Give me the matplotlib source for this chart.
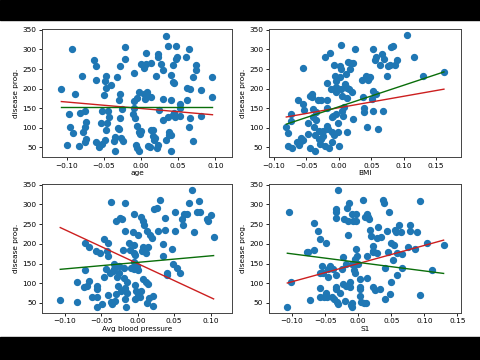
import numpy as np
import matplotlib
matplotlib.use("Agg")
import matplotlib.pyplot as plt
from matplotlib.patches import Rectangle
from matplotlib.ticker import MultipleLocator

# ---- data ----
age_x = [-0.107, -0.100, -0.097, -0.096, -0.093, -0.092, -0.089, -0.082, -0.083, -0.079,
         -0.078, -0.075, -0.074, -0.075, -0.074, -0.075, -0.063, -0.061, -0.060, -0.061,
         -0.057, -0.053, -0.054, -0.052, -0.050, -0.047, -0.048, -0.047, -0.046, -0.047,
         -0.048, -0.044, -0.043, -0.040, -0.035, -0.036, -0.035, -0.032, -0.031, -0.028,
         -0.028, -0.029, -0.028, -0.030, -0.027, -0.025, -0.024, -0.022, -0.022, -0.010,
         -0.010, -0.009, -0.011, -0.008, -0.006, -0.006, -0.007, -0.005, -0.003, -0.003,
         -0.002, -0.003, 0.000, 0.000, 0.004, 0.004, 0.007, 0.007, 0.008, 0.006,
         0.010, 0.010, 0.013, 0.014, 0.013, 0.012, 0.016, 0.017, 0.016, 0.020,
         0.019, 0.023, 0.023, 0.024, 0.023, 0.022, 0.027, 0.030, 0.030, 0.030,
         0.033, 0.033, 0.036, 0.036, 0.037, 0.038, 0.040, 0.040, 0.040, 0.040,
         0.043, 0.043, 0.044, 0.043, 0.044, 0.047, 0.048, 0.047, 0.046, 0.053,
         0.053, 0.052, 0.060, 0.062, 0.062, 0.065, 0.066, 0.066, 0.065, 0.070,
         0.070, 0.074, 0.074, 0.081, 0.081, 0.096, 0.096]
age_y = [200, 55, 135, 101, 302, 86, 185, 137, 52, 233,
         90, 143, 115, 101, 70, 62, 273, 258, 221, 62,
         50, 142, 113, 57, 183, 233, 220, 202, 113, 94,
         68, 143, 128, 210, 75, 65, 40, 229, 100, 257,
         186, 170, 125, 97, 73, 147, 65, 307, 275, 241,
         167, 150, 136, 124, 175, 105, 55, 48, 192, 89,
         83, 40, 262, 92, 253, 185, 291, 263, 190, 173,
         182, 52, 178, 265, 95, 50, 78, 68, 93, 233,
         73, 289, 280, 146, 55, 48, 262, 248, 174, 120,
         335, 68, 310, 126, 88, 82, 235, 170, 82, 40,
         260, 217, 213, 132, 138, 310, 280, 275, 128, 160,
         150, 130, 280, 202, 170, 302, 198, 124, 102, 230,
         66, 260, 248, 197, 131, 230, 179]

bmi_x = [-0.081, -0.078, -0.078, -0.074, -0.074, -0.072, -0.065, -0.063, -0.062, -0.059,
         -0.058, -0.056, -0.055, -0.055, -0.054, -0.047, -0.047, -0.045, -0.044, -0.042,
         -0.041, -0.040, -0.040, -0.038, -0.037, -0.037, -0.036, -0.035, -0.032, -0.030,
         -0.030, -0.029, -0.027, -0.027, -0.025, -0.024, -0.022, -0.022, -0.019, -0.019,
         -0.018, -0.018, -0.016, -0.015, -0.014, -0.012, -0.011, -0.010, -0.010, -0.009,
         -0.008, -0.007, -0.006, -0.005, -0.005, -0.004, -0.004, -0.002, -0.001, 0.000,
         0.001, 0.002, 0.003, 0.004, 0.004, 0.005, 0.005, 0.006, 0.008, 0.009,
         0.011, 0.012, 0.013, 0.013, 0.014, 0.016, 0.017, 0.019, 0.021, 0.022,
         0.022, 0.025, 0.035, 0.037, 0.038, 0.039, 0.042, 0.043, 0.045, 0.046,
         0.048, 0.051, 0.052, 0.052, 0.053, 0.055, 0.057, 0.058, 0.061, 0.063,
         0.066, 0.068, 0.070, 0.074, 0.075, 0.079, 0.080, 0.083, 0.087, 0.089,
         0.105, 0.116, 0.129, 0.162]
bmi_y = [102, 86, 52, 135, 116, 49, 64, 171, 56, 73,
         67, 253, 160, 68, 146, 84, 113, 181, 48, 185,
         179, 147, 126, 101, 80, 41, 120, 139, 172, 92,
         71, 57, 71, 172, 78, 92, 281, 52, 215, 172,
         151, 105, 96, 47, 291, 200, 126, 88, 63, 129,
         80, 261, 232, 203, 219, 190, 135, 113, 90, 54,
         257, 230, 198, 312, 249, 181, 143, 130, 153, 211,
         236, 177, 202, 90, 268, 198, 249, 265, 191, 265,
         123, 302, 221, 179, 151, 140, 232, 101, 223, 230,
         230, 174, 194, 143, 302, 274, 185, 281, 96, 260,
         288, 143, 276, 233, 257, 260, 306, 309, 261, 274,
         336, 280, 233, 242]

bp_x = [-0.106, -0.083, -0.083, -0.073, -0.072, -0.072, -0.070, -0.067, -0.066, -0.063,
        -0.057, -0.056, -0.055, -0.056, -0.056, -0.051, -0.049, -0.046, -0.046, -0.043,
        -0.042, -0.041, -0.040, -0.040, -0.038, -0.037, -0.036, -0.035, -0.033, -0.034,
        -0.032, -0.031, -0.029, -0.029, -0.028, -0.027, -0.026, -0.025, -0.024, -0.023,
        -0.021, -0.020, -0.019, -0.019, -0.018, -0.017, -0.017, -0.017, -0.017, -0.016,
        -0.015, -0.014, -0.012, -0.011, -0.009, -0.006, -0.005, -0.005, -0.005, -0.004,
        -0.005, -0.005, -0.004, -0.003, -0.002, -0.001, 0.000, 0.000, 0.001, 0.003,
        0.004, 0.005, 0.006, 0.007, 0.008, 0.008, 0.009, 0.011, 0.011, 0.013,
        0.013, 0.014, 0.014, 0.015, 0.017, 0.020, 0.021, 0.021, 0.023, 0.026,
        0.028, 0.031, 0.035, 0.035, 0.037, 0.038, 0.040, 0.040, 0.047, 0.048,
        0.051, 0.051, 0.054, 0.058, 0.061, 0.062, 0.063, 0.067, 0.071, 0.074,
        0.077, 0.084, 0.081, 0.086, 0.095, 0.096, 0.101, 0.104]
bp_y = [57, 53, 104, 91, 134, 201, 93, 106, 193, 64,
        181, 93, 65, 85, 40, 176, 48, 212, 116, 136,
        181, 70, 170, 201, 127, 53, 305, 48, 150, 131,
        136, 55, 259, 74, 116, 93, 145, 127, 265, 81,
        263, 184, 140, 113, 89, 303, 233, 82, 60, 40,
        76, 102, 203, 185, 140, 229, 275, 198, 178, 172,
        155, 136, 60, 95, 81, 144, 223, 133, 68, 64,
        81, 269, 182, 257, 192, 110, 247, 176, 102, 233,
        51, 192, 99, 62, 223, 216, 68, 43, 288, 291,
        233, 311, 199, 170, 234, 265, 127, 121, 186, 150,
        280, 233, 138, 125, 263, 248, 275, 275, 303, 336,
        229, 309, 281, 281, 263, 259, 274, 218]

s1_x = [-0.107, -0.104, -0.102, -0.078, -0.076, -0.073, -0.066, -0.066, -0.061, -0.058,
        -0.058, -0.058, -0.057, -0.054, -0.053, -0.051, -0.049, -0.048, -0.047, -0.045,
        -0.045, -0.043, -0.043, -0.040, -0.038, -0.036, -0.034, -0.034, -0.033, -0.033,
        -0.033, -0.033, -0.032, -0.030, -0.030, -0.028, -0.025, -0.023, -0.022, -0.023,
        -0.020, -0.019, -0.018, -0.017, -0.015, -0.015, -0.014, -0.013, -0.013, -0.011,
        -0.010, -0.009, -0.009, -0.009, -0.008, -0.007, -0.005, -0.005, -0.005, -0.004,
        -0.003, -0.003, -0.002, 0.000, 0.002, 0.002, 0.003, 0.003, 0.004, 0.008,
        0.009, 0.010, 0.012, 0.013, 0.014, 0.014, 0.015, 0.017, 0.018, 0.019,
        0.022, 0.022, 0.023, 0.023, 0.025, 0.028, 0.028, 0.030, 0.033, 0.035,
        0.037, 0.039, 0.040, 0.040, 0.043, 0.045, 0.047, 0.048, 0.050, 0.050,
        0.053, 0.054, 0.056, 0.057, 0.058, 0.059, 0.062, 0.064, 0.066, 0.066,
        0.076, 0.079, 0.079, 0.086, 0.089, 0.093, 0.094, 0.104, 0.111, 0.129]
s1_y = [41, 281, 102, 180, 180, 57, 252, 185, 233, 212,
        87, 125, 65, 143, 125, 65, 203, 76, 64, 135,
        116, 145, 138, 64, 135, 60, 91, 85, 288, 282,
        265, 121, 53, 336, 48, 76, 136, 167, 263, 98,
        54, 148, 93, 292, 259, 223, 303, 102, 91, 44,
        148, 51, 275, 40, 258, 133, 125, 148, 161, 275,
        259, 187, 170, 148, 68, 85, 91, 110, 53, 311,
        51, 269, 51, 113, 170, 275, 269, 263, 235, 220,
        195, 180, 182, 91, 82, 176, 214, 242, 85, 218,
        311, 303, 138, 60, 233, 180, 280, 74, 201, 104,
        159, 197, 235, 229, 121, 176, 248, 229, 140, 174,
        192, 248, 233, 187, 229, 308, 70, 203, 133, 198]

features = ["age", "BMI", "Avg blood pressure", "S1"]
xs = [age_x, bmi_x, bp_x, s1_x]
ys = [age_y, bmi_y, bp_y, s1_y]
# fitted lines (slope, intercept)
red_fit = [(-166, 149), (293, 151), (-862, 150), (461, 150)]
green_fit = [(0, 152), (550, 153.5), (166, 153), (-217, 153)]
xlims = [(-0.133, 0.122), (-0.108, 0.188), (-0.131, 0.129), (-0.135, 0.155)]

fig = plt.figure(figsize=(4.8, 3.6), dpi=100)
fig.add_artist(Rectangle((0, 1 - 20 / 360), 1, 20 / 360, transform=fig.transFigure,
                         color="black", zorder=10))
fig.add_artist(Rectangle((0, 0), 1, 23 / 360, transform=fig.transFigure,
                         color="black", zorder=10))

positions = [[0.0875, 0.564, 0.3955, 0.355],
             [0.560, 0.564, 0.400, 0.355],
             [0.0875, 0.131, 0.3955, 0.358],
             [0.560, 0.131, 0.400, 0.358]]

fs = 5.3
for i in range(4):
    ax = fig.add_axes(positions[i])
    x = np.array(xs[i])
    y = np.array(ys[i])
    ax.scatter(x, y, s=18, color="#1f77b4", zorder=2)
    xl = np.array([x.min(), x.max()])
    m, b = red_fit[i]
    ax.plot(xl, m * xl + b, color="#cc1f1f", lw=1.0, zorder=3)
    m, b = green_fit[i]
    ax.plot(xl, m * xl + b, color="#0a6e0a", lw=1.0, zorder=3)
    ax.set_xlim(*xlims[i])
    ax.set_ylim(25, 352)
    ax.xaxis.set_major_locator(MultipleLocator(0.05))
    ax.set_yticks([50, 100, 150, 200, 250, 300, 350])
    ax.tick_params(labelsize=fs, length=2.5, width=0.6, pad=1.5)
    ax.set_xlabel(features[i], fontsize=fs, labelpad=1)
    ax.set_ylabel("disease prog.", fontsize=fs, labelpad=2)
    for sp in ax.spines.values():
        sp.set_linewidth(0.7)
        sp.set_color("#444444")

fig.savefig("out.png", dpi=100)
